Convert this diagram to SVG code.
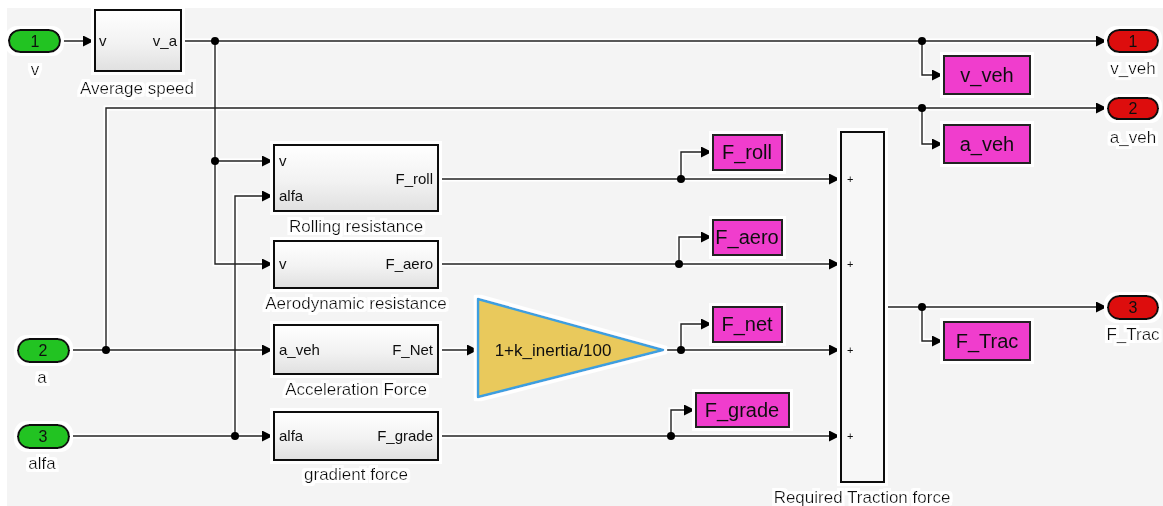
<svg xmlns="http://www.w3.org/2000/svg" width="1163" height="506" viewBox="0 0 1163 506">
<defs>
<marker id="arr" markerWidth="11" markerHeight="11" refX="11" refY="5.5" orient="auto" markerUnits="userSpaceOnUse">
<path d="M0,0 L11,5.5 L0,11 Z" fill="#000"/>
</marker>
<linearGradient id="blk" x1="0" y1="0" x2="0" y2="1">
<stop offset="0" stop-color="#ffffff"/>
<stop offset="0.55" stop-color="#f2f2f2"/>
<stop offset="1" stop-color="#e0e0e0"/>
</linearGradient>
<filter id="glow" x="-20%" y="-20%" width="140%" height="140%">
<feMorphology in="SourceAlpha" operator="dilate" radius="3" result="d"/>
<feFlood flood-color="#fff"/>
<feComposite in2="d" operator="in" result="w"/>
<feMerge><feMergeNode in="w"/><feMergeNode in="SourceGraphic"/></feMerge>
</filter>
</defs>
<style>
text{font-family:"Liberation Sans",Arial,sans-serif;fill:#111}
.blk{fill:url(#blk);stroke:#111;stroke-width:2}
.port{font-size:15px}
.lbl{font-size:17px;text-anchor:middle}
.goto{fill:#f03ccd;stroke:#222;stroke-width:2}
.gt{font-size:20px;text-anchor:middle}
.in{fill:#22c322;stroke:#111;stroke-width:2}
.out{fill:#dd0a0a;stroke:#111;stroke-width:2}
.pn{font-size:16px;text-anchor:middle}
.halo{fill:none;stroke:#fff;stroke-width:5}
.w{fill:none;stroke:#222;stroke-width:1.4}
.dot{fill:#000}
.plus{font-size:11px}
</style>
<rect x="0" y="0" width="1163" height="506" fill="#fff"/>
<rect x="7" y="8" width="1156" height="498" fill="#f4f4f4"/>

<g id="connectors">
<g class="halo">
<path d="M61,41 H94"/>
<path d="M181,41 H1107"/>
<path d="M215,41 V264 H273"/>
<path d="M215,161 H273"/>
<path d="M70,350 H273"/>
<path d="M106,350 V108 H1107"/>
<path d="M70,436 H273"/>
<path d="M235,436 V196 H273"/>
<path d="M438,179 H840"/>
<path d="M438,264 H840"/>
<path d="M438,350 H478"/>
<path d="M663,350 H840"/>
<path d="M438,436 H840"/>
<path d="M681,179 V152 H712"/>
<path d="M679,264 V237 H712"/>
<path d="M681,350 V324 H712"/>
<path d="M671,436 V410 H695"/>
<path d="M885,307 H1107"/>
<path d="M922,41 V75 H943"/>
<path d="M922,108 V144 H943"/>
<path d="M922,307 V341 H943"/>
</g>
<g class="w">
<path d="M61,41 H94" marker-end="url(#arr)"/>
<path d="M181,41 H1107" marker-end="url(#arr)"/>
<path d="M215,41 V264 H273" marker-end="url(#arr)"/>
<path d="M215,161 H273" marker-end="url(#arr)"/>
<path d="M70,350 H273" marker-end="url(#arr)"/>
<path d="M106,350 V108 H1107" marker-end="url(#arr)"/>
<path d="M70,436 H273" marker-end="url(#arr)"/>
<path d="M235,436 V196 H273" marker-end="url(#arr)"/>
<path d="M438,179 H840" marker-end="url(#arr)"/>
<path d="M438,264 H840" marker-end="url(#arr)"/>
<path d="M438,350 H478" marker-end="url(#arr)"/>
<path d="M663,350 H840" marker-end="url(#arr)"/>
<path d="M438,436 H840" marker-end="url(#arr)"/>
<path d="M681,179 V152 H712" marker-end="url(#arr)"/>
<path d="M679,264 V237 H712" marker-end="url(#arr)"/>
<path d="M681,350 V324 H712" marker-end="url(#arr)"/>
<path d="M671,436 V410 H695" marker-end="url(#arr)"/>
<path d="M885,307 H1107" marker-end="url(#arr)"/>
<path d="M922,41 V75 H943" marker-end="url(#arr)"/>
<path d="M922,108 V144 H943" marker-end="url(#arr)"/>
<path d="M922,307 V341 H943" marker-end="url(#arr)"/>
</g>
<circle class="dot" cx="215" cy="41" r="4"/>
<circle class="dot" cx="215" cy="161" r="4"/>
<circle class="dot" cx="106" cy="350" r="4"/>
<circle class="dot" cx="235" cy="436" r="4"/>
<circle class="dot" cx="681" cy="179" r="4"/>
<circle class="dot" cx="679" cy="264" r="4"/>
<circle class="dot" cx="681" cy="350" r="4"/>
<circle class="dot" cx="671" cy="436" r="4"/>
<circle class="dot" cx="922" cy="41" r="4"/>
<circle class="dot" cx="922" cy="108" r="4"/>
<circle class="dot" cx="922" cy="307" r="4"/>
</g>

<g id="in1" filter="url(#glow)">
<rect class="in" x="9" y="30" width="51" height="22" rx="11"/>
<text class="pn" x="35" y="47">1</text>
<text class="lbl" x="35" y="75">v</text>
</g>
<g id="in2" filter="url(#glow)">
<rect class="in" x="18" y="339" width="51" height="23" rx="11.5"/>
<text class="pn" x="43" y="356">2</text>
<text class="lbl" x="42" y="383">a</text>
</g>
<g id="in3" filter="url(#glow)">
<rect class="in" x="18" y="425" width="51" height="23" rx="11.5"/>
<text class="pn" x="43" y="442">3</text>
<text class="lbl" x="42" y="469">alfa</text>
</g>

<g id="avgspeed" filter="url(#glow)">
<rect class="blk" x="95" y="10" width="86" height="61"/>
<text class="port" x="99" y="46">v</text>
<text class="port" x="177" y="46" text-anchor="end">v_a</text>
<text class="lbl" x="137" y="94">Average speed</text>
</g>
<g id="rolling" filter="url(#glow)">
<rect class="blk" x="274" y="145" width="164" height="66"/>
<text class="port" x="279" y="166">v</text>
<text class="port" x="279" y="201">alfa</text>
<text class="port" x="433" y="184" text-anchor="end">F_roll</text>
<text class="lbl" x="356" y="232">Rolling resistance</text>
</g>
<g id="aero" filter="url(#glow)">
<rect class="blk" x="274" y="241" width="164" height="47"/>
<text class="port" x="279" y="269">v</text>
<text class="port" x="433" y="269" text-anchor="end">F_aero</text>
<text class="lbl" x="356" y="309">Aerodynamic resistance</text>
</g>
<g id="accel" filter="url(#glow)">
<rect class="blk" x="274" y="325" width="164" height="49"/>
<text class="port" x="279" y="355">a_veh</text>
<text class="port" x="433" y="355" text-anchor="end">F_Net</text>
<text class="lbl" x="356" y="395">Acceleration Force</text>
</g>
<g id="gradient" filter="url(#glow)">
<rect class="blk" x="274" y="412" width="164" height="48"/>
<text class="port" x="279" y="441">alfa</text>
<text class="port" x="433" y="441" text-anchor="end">F_grade</text>
<text class="lbl" x="356" y="480">gradient force</text>
</g>
<g id="gain" filter="url(#glow)">
<path d="M478,299 L663,350 L478,397 Z" fill="#e9c95c" stroke="#3c9fe0" stroke-width="2.5" stroke-linejoin="round"/>
<text x="553" y="356" font-size="17" text-anchor="middle">1+k_inertia/100</text>
</g>
<g id="sum" filter="url(#glow)">
<rect x="841" y="132" width="43" height="350" fill="#f7f7f7" stroke="#111" stroke-width="2"/>
<text class="plus" x="847" y="183">+</text>
<text class="plus" x="847" y="268">+</text>
<text class="plus" x="847" y="354">+</text>
<text class="plus" x="847" y="440">+</text>
<text class="lbl" x="862" y="503">Required Traction force</text>
</g>

<g id="goto_froll" filter="url(#glow)">
<rect class="goto" x="713" y="135" width="69" height="35"/>
<text class="gt" x="747" y="159">F_roll</text>
</g>
<g id="goto_faero" filter="url(#glow)">
<rect class="goto" x="713" y="220" width="69" height="35"/>
<text class="gt" x="747" y="244">F_aero</text>
</g>
<g id="goto_fnet" filter="url(#glow)">
<rect class="goto" x="713" y="307" width="69" height="35"/>
<text class="gt" x="747" y="331">F_net</text>
</g>
<g id="goto_fgrade" filter="url(#glow)">
<rect class="goto" x="696" y="393" width="93" height="34"/>
<text class="gt" x="742" y="417">F_grade</text>
</g>
<g id="goto_vveh" filter="url(#glow)">
<rect class="goto" x="944" y="56" width="86" height="38"/>
<text class="gt" x="987" y="82">v_veh</text>
</g>
<g id="goto_aveh" filter="url(#glow)">
<rect class="goto" x="944" y="125" width="86" height="38"/>
<text class="gt" x="987" y="151">a_veh</text>
</g>
<g id="goto_ftrac" filter="url(#glow)">
<rect class="goto" x="944" y="322" width="86" height="38"/>
<text class="gt" x="987" y="348">F_Trac</text>
</g>

<g id="out1" filter="url(#glow)">
<rect class="out" x="1108" y="30" width="50" height="22" rx="11"/>
<text class="pn" x="1133" y="47">1</text>
<text class="lbl" x="1133" y="74">v_veh</text>
</g>
<g id="out2" filter="url(#glow)">
<rect class="out" x="1108" y="98" width="50" height="21" rx="10.5"/>
<text class="pn" x="1133" y="114">2</text>
<text class="lbl" x="1133" y="143">a_veh</text>
</g>
<g id="out3" filter="url(#glow)">
<rect class="out" x="1108" y="296" width="50" height="23" rx="11.5"/>
<text class="pn" x="1133" y="313">3</text>
<text class="lbl" x="1133" y="340">F_Trac</text>
</g>
</svg>
